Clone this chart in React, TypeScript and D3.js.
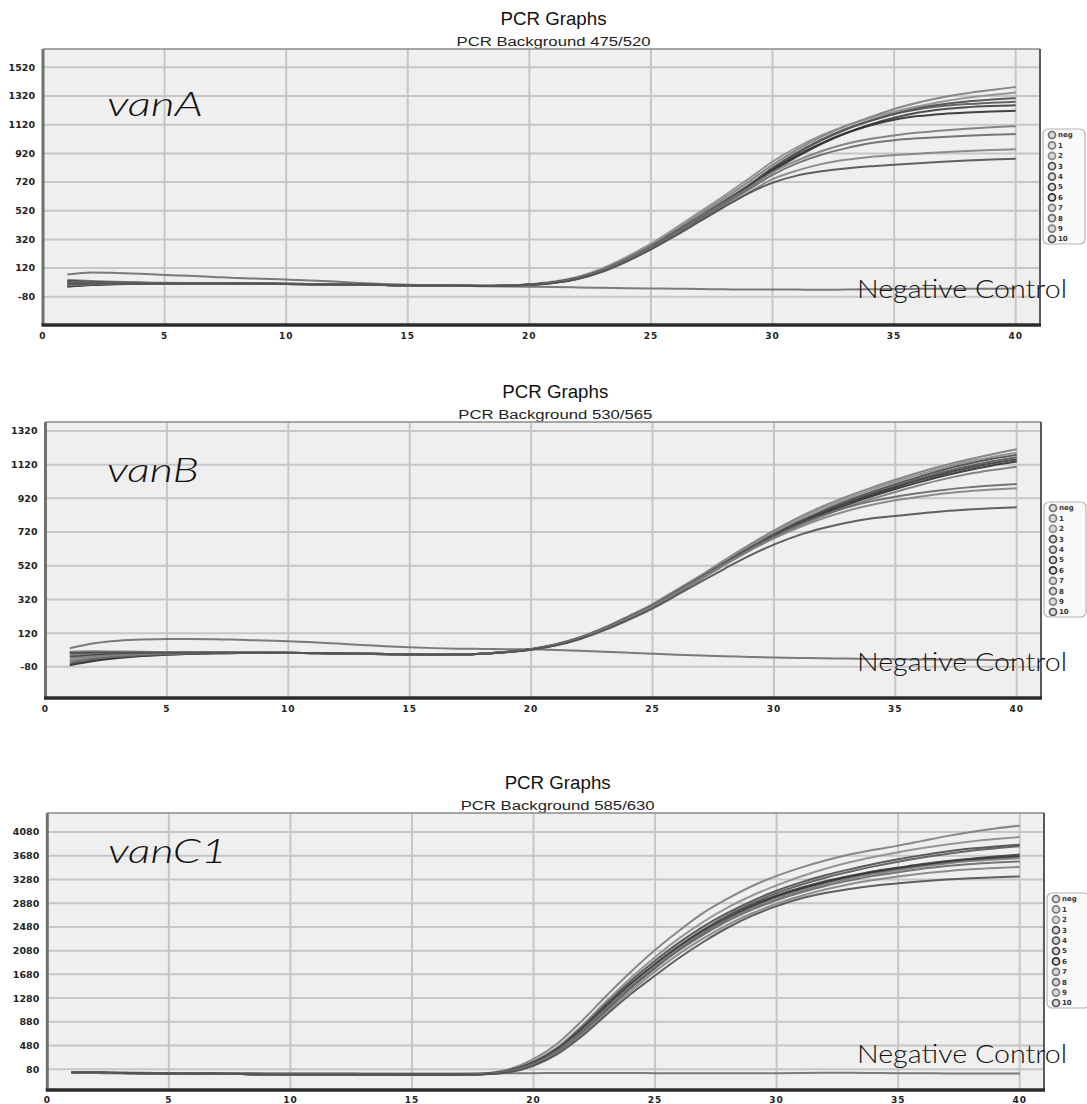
import React from "react";
import * as d3 from "d3";

// amplification cycles shared by all three runs
const cycles = [1, 2, 3, 4, 5, 6, 7, 8, 9, 10, 11, 12, 13, 14, 15, 16, 17, 18, 19, 20,
  21, 22, 23, 24, 25, 26, 27, 28, 29, 30, 31, 32, 33, 34, 35, 36, 37, 38, 39, 40];
const sampleNames = ["neg", "1", "2", "3", "4", "5", "6", "7", "8", "9", "10"];
const sampleColors = ["#6e6e6e", "#7c7c7c", "#8c8c8c", "#4a4a4a", "#575757", "#3c3c3c",
  "#2e2e2e", "#7a7a7a", "#686868", "#828282", "#505050"];
const xTicks = [0, 5, 10, 15, 20, 25, 30, 35, 40];

// vanA  (PCR Background 475/520)
const vanATicks = [-80, 120, 320, 520, 720, 920, 1120, 1320, 1520];
const vanANeg = [75, 90, 86, 80, 72, 66, 58, 50, 46, 40, 34, 26, 16, 9, 4, 0, -3, -6, -8, -10,
  -12, -15, -18, -20, -22, -24, -26, -28, -30, -29, -30, -32, -30, -28, -26, -25, -25, -24, -24, -23];
const vanA1 = [38, 30, 24, 20, 18, 16, 14, 13, 12, 11, 9, 7, 5, 3, 1, -1, -3, -4, -2, 6,
  22, 54, 110, 188, 278, 385, 495, 605, 720, 840, 945, 1035, 1110, 1172, 1230, 1275, 1312, 1340, 1362, 1383];
const vanA2 = [20, 18, 17, 16, 15, 14, 13, 12, 11, 10, 8, 6, 4, 2, 0, -2, -4, -4, -1, 8,
  26, 60, 118, 198, 290, 398, 510, 622, 740, 862, 962, 1045, 1112, 1165, 1210, 1248, 1282, 1308, 1328, 1345];
const vanA3 = [5, 10, 12, 13, 13, 13, 12, 11, 10, 9, 8, 6, 4, 2, 0, -2, -3, -4, -2, 6,
  22, 52, 106, 182, 270, 372, 478, 585, 695, 815, 920, 1010, 1085, 1145, 1195, 1235, 1262, 1282, 1295, 1305];
const vanA4 = [-5, 4, 9, 11, 12, 12, 12, 11, 10, 9, 8, 6, 4, 2, 0, -2, -4, -5, -3, 5,
  20, 50, 104, 180, 268, 370, 476, 584, 696, 820, 925, 1015, 1090, 1148, 1195, 1228, 1250, 1264, 1273, 1280];
const vanA5 = [30, 24, 20, 17, 15, 14, 13, 12, 11, 10, 8, 6, 4, 2, 0, -2, -4, -5, -3, 4,
  18, 48, 100, 176, 262, 362, 466, 572, 680, 795, 895, 985, 1060, 1120, 1168, 1205, 1228, 1242, 1250, 1255];
const vanA6 = [-10, 2, 8, 11, 12, 12, 12, 11, 10, 9, 8, 6, 4, 2, 0, -2, -4, -5, -3, 4,
  19, 48, 100, 176, 262, 362, 468, 575, 685, 805, 905, 990, 1060, 1115, 1155, 1180, 1195, 1205, 1212, 1217];
const vanA7 = [15, 15, 15, 14, 14, 13, 12, 11, 10, 9, 8, 6, 4, 2, 0, -2, -3, -4, -2, 5,
  20, 50, 104, 180, 266, 366, 470, 575, 680, 790, 870, 935, 985, 1020, 1045, 1065, 1080, 1092, 1102, 1110];
const vanA8 = [25, 22, 19, 17, 15, 14, 13, 12, 11, 10, 8, 6, 4, 2, 0, -2, -4, -5, -3, 4,
  18, 47, 98, 172, 258, 356, 458, 562, 665, 770, 850, 910, 955, 990, 1012, 1025, 1035, 1043, 1050, 1055];
const vanA9 = [0, 8, 12, 13, 13, 13, 12, 11, 10, 9, 8, 6, 4, 2, 0, -2, -4, -5, -3, 3,
  17, 45, 95, 168, 252, 348, 448, 548, 645, 740, 800, 845, 875, 895, 908, 918, 928, 936, 943, 948];
const vanA10 = [10, 12, 13, 13, 13, 13, 12, 11, 10, 9, 8, 6, 4, 2, 0, -2, -4, -5, -3, 3,
  16, 44, 94, 166, 250, 345, 445, 545, 640, 715, 765, 795, 815, 830, 840, 852, 862, 870, 877, 883];

// vanB  (PCR Background 530/565)
const vanBTicks = [-80, 120, 320, 520, 720, 920, 1120, 1320];
const vanBNeg = [30, 60, 75, 82, 85, 85, 84, 80, 76, 72, 66, 58, 50, 42, 36, 31, 28, 26, 25, 24,
  20, 15, 10, 4, -2, -8, -13, -17, -21, -25, -27, -29, -31, -33, -35, -36, -37, -38, -39, -40];
const vanB1 = [-10, -5, -2, 0, 2, 3, 4, 4, 4, 3, 2, 0, -2, -4, -6, -8, -7, -2, 9,
  26, 54, 96, 152, 220, 292, 378, 465, 556, 645, 728, 805, 872, 930, 982, 1030, 1075, 1115, 1150, 1182, 1211];
const vanB2 = [-40, -25, -15, -8, -3, 0, 2, 3, 3, 2, 1, -1, -3, -5, -7, -9, -8, -3, 8,
  25, 52, 93, 148, 215, 286, 372, 458, 548, 636, 718, 793, 860, 918, 970, 1018, 1062, 1102, 1138, 1166, 1190];
const vanB3 = [5, 8, 8, 7, 6, 5, 5, 4, 4, 3, 2, 0, -2, -4, -6, -8, -7, -2, 9,
  24, 50, 90, 145, 210, 280, 364, 450, 540, 626, 706, 780, 846, 904, 956, 1004, 1048, 1090, 1125, 1155, 1178];
const vanB4 = [-60, -38, -24, -14, -7, -3, 0, 2, 2, 2, 1, -1, -3, -5, -7, -9, -8, -3, 8,
  24, 50, 90, 146, 212, 282, 366, 452, 540, 625, 704, 776, 840, 896, 946, 992, 1036, 1076, 1110, 1140, 1164];
const vanB5 = [-20, -12, -6, -2, 1, 3, 4, 4, 4, 3, 2, 0, -2, -4, -6, -8, -7, -2, 8,
  23, 49, 88, 142, 206, 276, 358, 444, 532, 618, 698, 770, 834, 890, 940, 986, 1028, 1066, 1100, 1128, 1150];
const vanB6 = [-70, -45, -28, -16, -8, -3, 0, 2, 2, 2, 1, -1, -3, -5, -7, -9, -8, -3, 8,
  24, 51, 91, 146, 212, 283, 366, 450, 537, 620, 696, 764, 826, 880, 930, 975, 1016, 1054, 1087, 1115, 1138];
const vanB7 = [10, 12, 11, 9, 7, 6, 5, 4, 4, 3, 2, 0, -2, -4, -6, -8, -7, -2, 8,
  23, 48, 87, 140, 204, 273, 355, 440, 527, 610, 686, 754, 815, 868, 915, 958, 998, 1034, 1064, 1088, 1108];
const vanB8 = [-50, -32, -20, -11, -5, -1, 1, 2, 3, 2, 1, -1, -3, -5, -7, -9, -8, -3, 9,
  25, 52, 92, 148, 214, 285, 368, 452, 538, 620, 695, 762, 820, 866, 902, 930, 952, 970, 985, 996, 1005];
const vanB9 = [-30, -18, -10, -5, -1, 2, 3, 4, 4, 3, 2, 0, -2, -4, -6, -8, -7, -2, 8,
  24, 50, 89, 143, 208, 278, 360, 444, 530, 610, 682, 745, 800, 845, 880, 908, 930, 948, 962, 972, 980];
const vanB10 = [0, 3, 4, 4, 4, 4, 4, 4, 3, 3, 2, 0, -2, -4, -6, -8, -7, -2, 7,
  22, 46, 84, 136, 198, 266, 345, 425, 505, 580, 645, 700, 742, 775, 800, 815, 830, 843, 853, 861, 867];

// vanC1  (PCR Background 585/630)
const vanCTicks = [80, 480, 880, 1280, 1680, 2080, 2480, 2880, 3280, 3680, 4080];
const vanCNeg = [22, 22, 21, 20, 19, 18, 17, 16, 15, 14, 13, 12, 11, 10, 9, 9, 10, 12, 14, 15,
  16, 17, 17, 16, 15, 14, 14, 13, 13, 14, 16, 20, 22, 18, 14, 12, 11, 10, 10, 10];
const vanC1 = [28, 24, 20, 15, 11, 7, 3, 0, -3, -6, -8, -10, -11, -12, -12, -11,
  -10, 10, 80, 250, 520, 900, 1320, 1720, 2090, 2420, 2720, 2960, 3170, 3340, 3480, 3600, 3700, 3780, 3850, 3930, 4010, 4080, 4140, 4186];
const vanC2 = [20, 18, 15, 12, 9, 6, 3, 0, -3, -6, -8, -10, -12, -13, -13, -13,
  -12, 5, 65, 215, 460, 820, 1230, 1620, 1970, 2290, 2570, 2810, 3010, 3180, 3330, 3460, 3570, 3660, 3740, 3810, 3870, 3920, 3960, 3995];
const vanC3 = [30, 26, 21, 16, 11, 7, 3, 0, -3, -6, -9, -11, -12, -13, -13, -13,
  -12, 4, 60, 200, 440, 790, 1190, 1570, 1910, 2220, 2490, 2720, 2920, 3090, 3230, 3350, 3450, 3540, 3620, 3690, 3750, 3800, 3835, 3866];
const vanC4 = [18, 16, 14, 11, 8, 5, 2, -1, -4, -7, -9, -11, -13, -14, -14, -14,
  -13, 2, 50, 180, 410, 750, 1140, 1520, 1860, 2170, 2440, 2680, 2880, 3050, 3190, 3310, 3410, 3500, 3580, 3650, 3710, 3765, 3805, 3840];
const vanC5 = [25, 22, 18, 14, 10, 6, 3, 0, -3, -6, -8, -10, -12, -13, -13, -13,
  -12, 3, 55, 190, 420, 760, 1150, 1520, 1850, 2150, 2420, 2650, 2850, 3010, 3140, 3250, 3340, 3420, 3480, 3540, 3590, 3630, 3668, 3700];
const vanC6 = [22, 20, 17, 13, 9, 5, 2, -1, -4, -7, -9, -11, -13, -14, -14, -14,
  -13, 0, 40, 160, 380, 700, 1080, 1450, 1790, 2100, 2380, 2620, 2820, 2990, 3120, 3230, 3320, 3400, 3460, 3520, 3570, 3610, 3642, 3670];
const vanC7 = [26, 23, 19, 14, 10, 6, 3, 0, -3, -6, -8, -10, -12, -13, -13, -12,
  -12, 2, 48, 175, 400, 730, 1110, 1480, 1810, 2110, 2380, 2610, 2800, 2960, 3090, 3200, 3290, 3370, 3440, 3500, 3550, 3590, 3618, 3640];
const vanC8 = [24, 21, 17, 13, 9, 5, 2, -1, -4, -7, -9, -11, -13, -14, -14, -14,
  -13, 0, 42, 165, 385, 710, 1090, 1460, 1790, 2090, 2350, 2580, 2770, 2930, 3060, 3170, 3260, 3340, 3400, 3460, 3505, 3540, 3565, 3584];
const vanC9 = [21, 19, 16, 12, 8, 5, 2, -1, -4, -7, -9, -11, -13, -14, -15, -15,
  -14, -2, 35, 150, 360, 670, 1040, 1400, 1730, 2030, 2290, 2520, 2710, 2870, 3000, 3110, 3200, 3270, 3330, 3380, 3420, 3450, 3472, 3489];
const vanC10 = [27, 24, 19, 15, 10, 6, 3, 0, -3, -6, -9, -11, -13, -14, -15, -15,
  -14, -3, 30, 140, 340, 640, 1000, 1350, 1660, 1960, 2230, 2470, 2670, 2830, 2960, 3050, 3120, 3175, 3215, 3250, 3278, 3300, 3316, 3330];

const vanASeries = [vanANeg, vanA1, vanA2, vanA3, vanA4, vanA5, vanA6, vanA7, vanA8, vanA9, vanA10];
const vanBSeries = [vanBNeg, vanB1, vanB2, vanB3, vanB4, vanB5, vanB6, vanB7, vanB8, vanB9, vanB10];
const vanCSeries = [vanCNeg, vanC1, vanC2, vanC3, vanC4, vanC5, vanC6, vanC7, vanC8, vanC9, vanC10];

type PanelProps = {
  gene: string;
  background: string;
  series: number[][];
  yTicks: number[];
  yDomain: [number, number];
  left: number;
  right: number;
  top: number;
  bottom: number;
  geneX: number;
  geneY: number;
  geneW: number;
  legendTop: number;
  labelGap: number;
};

const Panel = (p: PanelProps) => {
  const x = d3.scaleLinear().domain([0, 41]).range([p.left, p.right]);
  const y = d3.scaleLinear().domain(p.yDomain).range([p.bottom, p.top]);
  const line = d3
    .line<number>()
    .x((_, i) => x(cycles[i]))
    .y((d) => y(d))
    .curve(d3.curveMonotoneX);
  const cx = (p.left + p.right) / 2 + 12;
  const lx = p.right + 3;

  return (
    <g>
      <text x={cx} y={p.top - 24} textAnchor="middle" fontFamily="Liberation Sans, Arial"
        fontSize={19} textLength={106} lengthAdjust="spacingAndGlyphs" fill="#111">
        PCR Graphs
      </text>
      <text x={cx} y={p.top - 3} textAnchor="middle" fontFamily="Liberation Sans, Arial"
        fontSize={12.5} textLength={194} lengthAdjust="spacingAndGlyphs" fill="#222">
        {p.background}
      </text>

      <rect x={p.left} y={p.top} width={p.right - p.left} height={p.bottom - p.top} fill="#efefef" />
      {p.yTicks.map((t) => (
        <line key={"h" + t} x1={p.left} x2={p.right} y1={y(t)} y2={y(t)} stroke="#c6c6c6" strokeWidth={2} />
      ))}
      {xTicks.slice(1).map((t) => (
        <line key={"v" + t} x1={x(t)} x2={x(t)} y1={p.top} y2={p.bottom} stroke="#c6c6c6" strokeWidth={2} />
      ))}

      {p.series.map((s, i) => (
        <path key={sampleNames[i]} d={line(s) || ""} fill="none" stroke={sampleColors[i]}
          strokeWidth={2} strokeOpacity={0.9} />
      ))}

      <line x1={p.left} x2={p.right} y1={p.top} y2={p.top} stroke="#8a8a8a" strokeWidth={1.5} />
      <line x1={p.right} x2={p.right} y1={p.top} y2={p.bottom} stroke="#5a5a5a" strokeWidth={2} />
      <line x1={p.left} x2={p.left} y1={p.top} y2={p.bottom} stroke="#707070" strokeWidth={3} />
      <line x1={p.left - 1.5} x2={p.right + 1} y1={p.bottom} y2={p.bottom} stroke="#2c2c2c" strokeWidth={3.5} />

      {p.yTicks.map((t) => (
        <text key={"yl" + t} x={p.left - 8} y={y(t)} dy="0.36em" textAnchor="end"
          fontFamily="DejaVu Sans, Verdana" fontWeight="bold" fontSize={9.5} fill="#222">
          {t}
        </text>
      ))}
      {xTicks.map((t) => (
        <text key={"xl" + t} x={x(t)} y={p.bottom + p.labelGap} textAnchor="middle" letterSpacing={1}
          fontFamily="DejaVu Sans, Verdana" fontWeight="bold" fontSize={9} fill="#222">
          {t}
        </text>
      ))}

      <text x={p.geneX} y={p.geneY} fontFamily="Lato, Noto Sans" fontStyle="italic" fontWeight={300}
        fontSize={34} textLength={p.geneW} lengthAdjust="spacingAndGlyphs" fill="#111">
        {p.gene}
      </text>
      <text x={857} y={p.bottom - 27} fontFamily="Lato, Noto Sans" fontWeight={300} fontSize={25}
        textLength={210} lengthAdjust="spacingAndGlyphs" fill="#111">
        Negative Control
      </text>

      <rect x={lx} y={p.legendTop} width={42} height={115} rx={5} fill="#fafafa" stroke="#b4b4b4" strokeWidth={1.2} />
      {sampleNames.map((n, i) => (
        <g key={"lg" + n}>
          <circle cx={lx + 9} cy={p.legendTop + 6 + i * 10.4} r={3.5} fill="#dcdcdc"
            stroke={sampleColors[i]} strokeWidth={1.7} />
          <text x={lx + 15} y={p.legendTop + 6 + i * 10.4} dy="0.35em" fontFamily="DejaVu Sans, Verdana"
            fontWeight="bold" fontSize={7} fill="#333">
            {n}
          </text>
        </g>
      ))}
    </g>
  );
};

export default function App() {
  return (
    <svg width={1087} height={1104} style={{ position: "absolute", left: 0, top: 0, background: "#fff" }}>
      <Panel gene="vanA" background="PCR Background 475/520" series={vanASeries} yTicks={vanATicks}
        yDomain={[-277, 1648]} left={43} right={1040} top={49} bottom={325}
        geneX={107} geneY={116} geneW={96} legendTop={129} labelGap={14} />
      <Panel gene="vanB" background="PCR Background 530/565" series={vanBSeries} yTicks={vanBTicks}
        yDomain={[-265, 1373]} left={45.5} right={1041} top={422} bottom={698}
        geneX={107} geneY={482} geneW={92} legendTop={502} labelGap={14} />
      <Panel gene="vanC1" background="PCR Background 585/630" series={vanCSeries} yTicks={vanCTicks}
        yDomain={[-269, 4400]} left={47.3} right={1044} top={813} bottom={1090}
        geneX={108} geneY={863} geneW={119} legendTop={893} labelGap={12.5} />
    </svg>
  );
}
